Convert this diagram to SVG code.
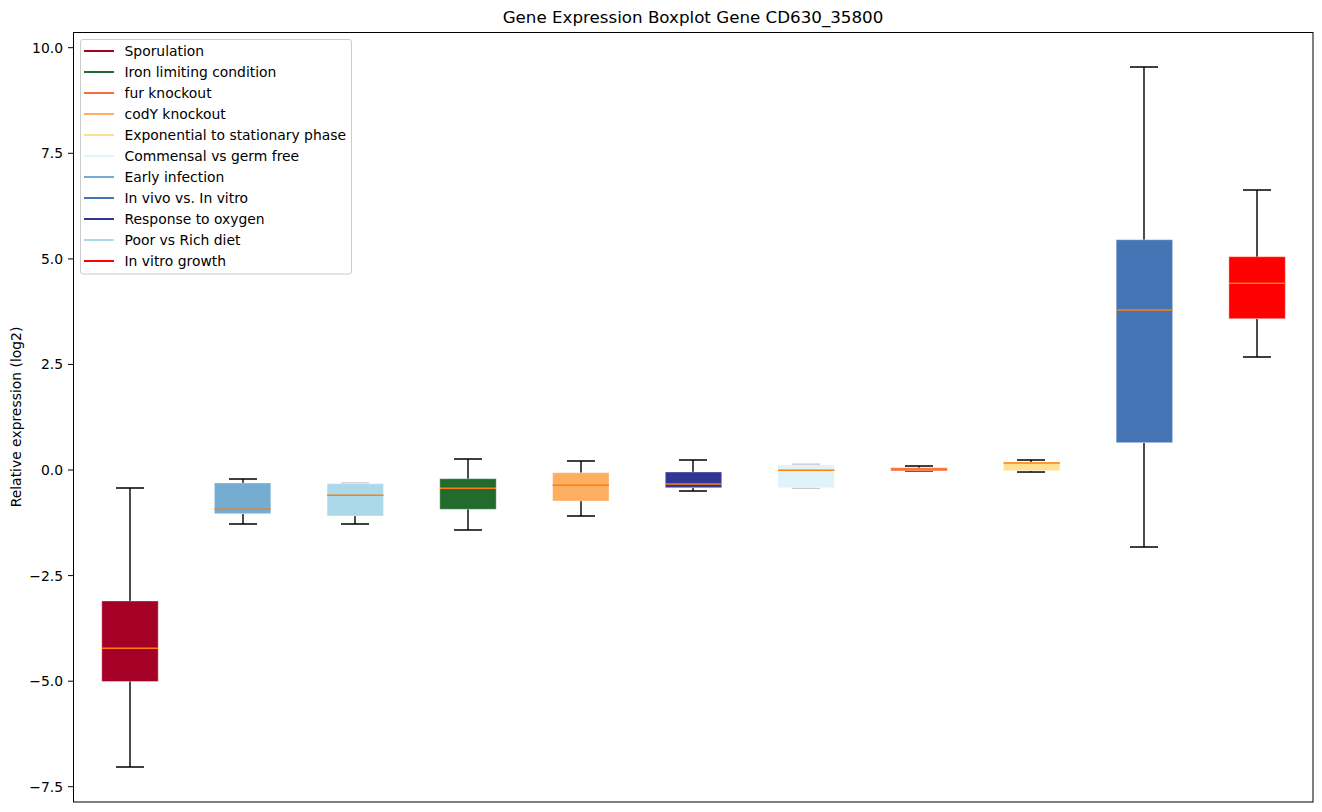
<svg xmlns="http://www.w3.org/2000/svg" width="1322" height="812" viewBox="0 0 1322 812">
<style>
text{font-family:"DejaVu Sans","Liberation Sans",sans-serif;fill:#000}
.tick{font-size:13.9px;text-anchor:end}
.leg{font-size:13.9px}
.wh{stroke:#000;stroke-width:1.4;fill:none}
.whg{stroke:#c8c8c8;stroke-width:1.4;fill:none}
.box{stroke-width:1;stroke-opacity:0.35;stroke:#fff}
.med{stroke:#ff7f0e;stroke-width:1.5}
.ll{stroke-width:2}
</style>
<rect width="1322" height="812" fill="#fff"/>
<text x="693" y="23" font-size="16.7" text-anchor="middle">Gene Expression Boxplot Gene CD630_35800</text>
<text transform="translate(21,417) rotate(-90)" font-size="13.9" text-anchor="middle">Relative expression (log2)</text>
<g id="yaxis">
<g stroke="#000" stroke-width="1">
<line x1="68" y1="47.7" x2="73" y2="47.7"/>
<line x1="68" y1="153.3" x2="73" y2="153.3"/>
<line x1="68" y1="258.9" x2="73" y2="258.9"/>
<line x1="68" y1="364.4" x2="73" y2="364.4"/>
<line x1="68" y1="470" x2="73" y2="470"/>
<line x1="68" y1="575.6" x2="73" y2="575.6"/>
<line x1="68" y1="681.2" x2="73" y2="681.2"/>
<line x1="68" y1="786.7" x2="73" y2="786.7"/>
</g>
<text class="tick" x="63" y="52.7">10.0</text>
<text class="tick" x="63" y="158.3">7.5</text>
<text class="tick" x="63" y="263.9">5.0</text>
<text class="tick" x="63" y="369.4">2.5</text>
<text class="tick" x="63" y="475">0.0</text>
<text class="tick" x="63" y="580.6">−2.5</text>
<text class="tick" x="63" y="686.2">−5.0</text>
<text class="tick" x="63" y="791.7">−7.5</text>
</g>
<g id="connectors">
<path class="wh" d="M130 488V601M116 488H144M130 681V767M116 767H144"/>
<path class="wh" d="M243 479V483M229 479H257M243 514V524M229 524H257"/>
<path class="whg" d="M341 483H369"/>
<path class="wh" d="M355 516V524M341 524H369"/>
<path class="wh" d="M468 459V479M454 459H482M468 509V530M454 530H482"/>
<path class="wh" d="M581 461V473M567 461H595M581 501V516M567 516H595"/>
<path class="wh" d="M693 460V472M679 460H707M693 488V491M679 491H707"/>
<path class="whg" d="M792 464.3H820M792 488.3H820"/>
<path class="wh" d="M919 466V468M905 466H933M919 471V471M905 471H933"/>
<path class="wh" d="M1031 460V462M1017 460H1045M1031 471V472M1017 472H1045"/>
<path class="wh" d="M1144 67V240M1130 67H1158M1144 443V547M1130 547H1158"/>
<path class="wh" d="M1257 190V257M1243 190H1271M1257 319V357M1243 357H1271"/>
</g>
<g id="b1"><rect class="box" x="101.8" y="601" width="56.4" height="80.5" fill="#a50026"/><line class="med" x1="101.8" y1="648.3" x2="158.2" y2="648.3"/></g>
<g id="b2"><rect class="box" x="214.4" y="483" width="56.4" height="30.7" fill="#74add1"/><line class="med" x1="214.4" y1="509.3" x2="270.8" y2="509.3"/></g>
<g id="b3"><rect class="box" x="327.1" y="483.7" width="56.4" height="32.3" fill="#abd9e9"/><line class="med" x1="327.1" y1="495.3" x2="383.5" y2="495.3"/></g>
<g id="b4"><rect class="box" x="439.8" y="478.7" width="56.4" height="30.6" fill="#236b2d"/><line class="med" x1="439.8" y1="488.3" x2="496.2" y2="488.3"/></g>
<g id="b5"><rect class="box" x="552.6" y="472.7" width="56.4" height="28.3" fill="#fdae61"/><line class="med" x1="552.6" y1="485.3" x2="609" y2="485.3"/></g>
<g id="b6"><rect class="box" x="665.3" y="472" width="56.4" height="15.7" fill="#313695"/><line class="med" x1="665.3" y1="484" x2="721.7" y2="484"/></g>
<g id="b7"><rect class="box" x="778" y="465" width="56.4" height="22.7" fill="#e0f3f8"/><line class="med" x1="778" y1="470.3" x2="834.4" y2="470.3"/></g>
<g id="b8"><rect class="box" x="890.8" y="467.7" width="56.4" height="3.3" fill="#f46d43"/><line class="med" x1="890.8" y1="469.3" x2="947.2" y2="469.3"/></g>
<g id="b9"><rect class="box" x="1003.5" y="462.3" width="56.4" height="8.4" fill="#fee090"/><line class="med" x1="1003.5" y1="463" x2="1059.9" y2="463"/></g>
<g id="b10"><rect class="box" x="1116.2" y="239.7" width="56.4" height="203" fill="#4575b4"/><line class="med" x1="1116.2" y1="310" x2="1172.6" y2="310"/></g>
<g id="b11"><rect class="box" x="1228.9" y="256.7" width="56.4" height="62" fill="#ff0000"/><line class="med" x1="1228.9" y1="283.3" x2="1285.3" y2="283.3"/></g>
<rect id="frame" x="73.5" y="32.5" width="1239.5" height="769.5" fill="none" stroke="#000" stroke-width="1"/>
<g id="legend">
<rect x="80.5" y="39.5" width="271" height="234.5" rx="2.5" fill="#fff" fill-opacity="0.8" stroke="#ccc" stroke-width="1"/>
<line class="ll" x1="84" y1="51" x2="114" y2="51" stroke="#a50026"/><text class="leg" x="124.5" y="56">Sporulation</text>
<line class="ll" x1="84" y1="72" x2="114" y2="72" stroke="#236b2d"/><text class="leg" x="124.5" y="77">Iron limiting condition</text>
<line class="ll" x1="84" y1="93" x2="114" y2="93" stroke="#f46d43"/><text class="leg" x="124.5" y="98">fur knockout</text>
<line class="ll" x1="84" y1="114" x2="114" y2="114" stroke="#fdae61"/><text class="leg" x="124.5" y="119">codY knockout</text>
<line class="ll" x1="84" y1="135" x2="114" y2="135" stroke="#fee090"/><text class="leg" x="124.5" y="140">Exponential to stationary phase</text>
<line class="ll" x1="84" y1="156" x2="114" y2="156" stroke="#e0f3f8"/><text class="leg" x="124.5" y="161">Commensal vs germ free</text>
<line class="ll" x1="84" y1="177" x2="114" y2="177" stroke="#74add1"/><text class="leg" x="124.5" y="182">Early infection</text>
<line class="ll" x1="84" y1="198" x2="114" y2="198" stroke="#4575b4"/><text class="leg" x="124.5" y="203">In vivo vs. In vitro</text>
<line class="ll" x1="84" y1="219" x2="114" y2="219" stroke="#313695"/><text class="leg" x="124.5" y="224">Response to oxygen</text>
<line class="ll" x1="84" y1="240" x2="114" y2="240" stroke="#abd9e9"/><text class="leg" x="124.5" y="245">Poor vs Rich diet</text>
<line class="ll" x1="84" y1="261" x2="114" y2="261" stroke="#ff0000"/><text class="leg" x="124.5" y="266">In vitro growth</text>
</g>
</svg>
